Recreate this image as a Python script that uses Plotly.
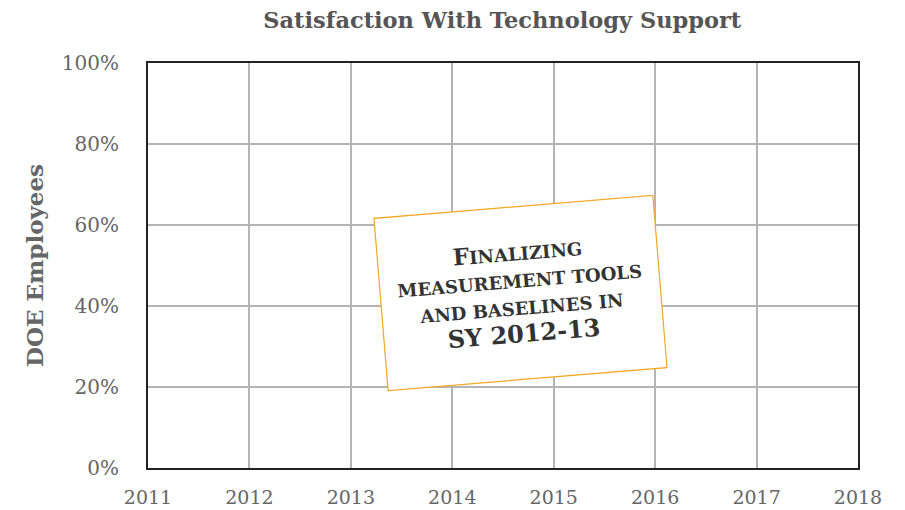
import plotly.graph_objects as go

years = [2011, 2012, 2013, 2014, 2015, 2016, 2017, 2018]
year_labels = [str(y) for y in years]
pct_ticks = [0, 0.2, 0.4, 0.6, 0.8, 1.0]
pct_labels = ["0%", "20%", "40%", "60%", "80%", "100%"]

title_text = "Satisfaction With Technology Support"
y_title = "DOE Employees"
note_text = ("<b><span style='font-size:23px'>F</span>"
             "<span style='font-size:18px'>INALIZING</span><br>"
             "<span style='font-size:18px'>MEASUREMENT TOOLS</span><br>"
             "<span style='font-size:18px'>AND BASELINES IN</span><br>"
             "<span style='font-size:24px'>SY 2012-13</span></b>")

serif = "DejaVu Serif"

fig = go.Figure()
fig.add_trace(go.Scatter(x=years, y=[None] * len(years), mode="lines",
                         showlegend=False, hoverinfo="skip"))

fig.update_layout(
    width=905, height=510,
    margin=dict(l=148, r=47, t=63, b=42, autoexpand=False),
    paper_bgcolor="white", plot_bgcolor="white",
    title=dict(text="<b>" + title_text + "</b>", x=0.555, xanchor="center",
               y=0.96, yanchor="middle",
               font=dict(family=serif, size=22.5, color="#555555")),
    font=dict(family=serif, color="#666666"),
)

fig.update_xaxes(
    range=[2011, 2018], tickvals=years, ticktext=year_labels,
    showgrid=True, gridcolor="#b4b4b4", gridwidth=2,
    showline=True, linecolor="#222222", linewidth=2, mirror=True,
    ticks="", ticklabelstandoff=11, automargin=False,
    tickfont=dict(family=serif, size=19, color="#666666"),
    zeroline=False, fixedrange=True,
)
fig.update_yaxes(
    range=[0, 1], tickvals=pct_ticks, ticktext=pct_labels,
    showgrid=True, gridcolor="#b4b4b4", gridwidth=2,
    showline=True, linecolor="#222222", linewidth=2, mirror=True,
    ticks="", ticklabelstandoff=23, automargin=False,
    tickfont=dict(family=serif, size=20, color="#666666"),
    title=dict(text="<b>" + y_title + "</b>", standoff=12,
               font=dict(family=serif, size=23, color="#666666")),
    zeroline=False, fixedrange=True,
)

fig.add_annotation(
    x=2014.67, y=0.432, xref="x", yref="y",
    text=note_text, showarrow=False,
    textangle=-4.7, width=279, height=172,
    bgcolor="white", bordercolor="#f5a623", borderwidth=1.2, borderpad=0,
    font=dict(family=serif, size=21, color="#333333"),
    align="center", valign="middle",
)

fig.write_html("out.html", config={"displayModeBar": False},
               post_script="document.body.style.margin='0';")
